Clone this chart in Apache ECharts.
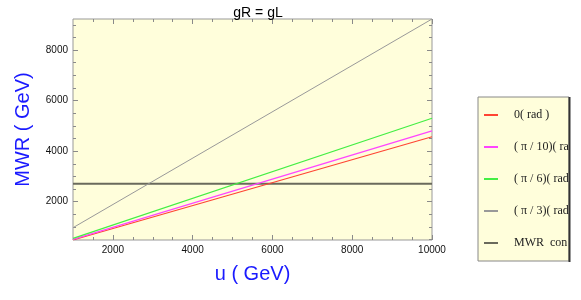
<!DOCTYPE html>
<html>
<head>
<meta charset="utf-8">
<script src="https://cdn.jsdelivr.net/npm/echarts@6/dist/echarts.min.js"></script>
<style>
  html, body { margin: 0; padding: 0; background: #fff; }
  #chart { width: 581px; height: 300px; }
</style>
</head>
<body>
<div id="chart"></div>
<script>
// u (GeV) values, first and last point of each curve
const uValues = [1000, 10000]
const seriesNames = ['0( rad )', '( π / 10)( rad )', '( π / 6)( rad )', '( π / 3)( rad )', 'MWR  constraint']
const radZero = [483, 4570]
const radPi10 = [510, 4800]
const radPi6 = [545, 5300]
const radPi3 = [970, 9228]
const mwrConstraint = [2710, 2710]

const xMajorTicks = [2000, 4000, 6000, 8000, 10000]
const xMinorTicks = [1500, 2500, 3000, 3500, 4500, 5000, 5500, 6500, 7000, 7500, 8500, 9000, 9500]
const yMajorTicks = [2000, 4000, 6000, 8000]
const yMinorTicks = [500, 1000, 1500, 2500, 3000, 3500, 4500, 5000, 5500, 6500, 7000, 7500, 8500, 9000]

const xMin = 1000, xMax = 10000
const yMin = 483, yMax = 9228

const colors = ['#ff4433', '#ff44ff', '#44ee44', '#999999', '#6a6a5c']
const widths = [1.2, 1.2, 1.2, 1, 2]
const dataSets = [radZero, radPi10, radPi6, radPi3, mwrConstraint]

const tickColor = '#8a8a8a'

function makeAxis (type, position, ticks, len, showLabel) {
  const ax = {
    type: 'value',
    position: position,
    min: type === 'x' ? xMin : yMin,
    max: type === 'x' ? xMax : yMax,
    axisLine: { show: false },
    splitLine: { show: false },
    axisTick: {
      show: true,
      inside: true,
      length: len,
      customValues: ticks,
      lineStyle: { color: tickColor, width: 1 },
    },
    axisLabel: {
      show: showLabel,
      customValues: ticks,
      formatter: v => String(v),
      fontFamily: 'Liberation Sans',
      fontSize: 10,
      color: '#111',
      margin: 5,
    },
  }
  return ax
}

const chart = echarts.init(document.getElementById('chart'))

const xAxes = [
  makeAxis('x', 'bottom', xMajorTicks, 5, true),
  makeAxis('x', 'bottom', xMinorTicks, 3, false),
  makeAxis('x', 'top', xMajorTicks, 5, false),
  makeAxis('x', 'top', xMinorTicks, 3, false),
]
xAxes[0].name = 'u ( GeV)'
xAxes[0].nameLocation = 'middle'
xAxes[0].nameGap = 24
xAxes[0].nameTextStyle = { fontFamily: 'Liberation Sans', fontSize: 20, color: '#1a1aff' }

const yAxes = [
  makeAxis('y', 'left', yMajorTicks, 5, true),
  makeAxis('y', 'left', yMinorTicks, 3, false),
  makeAxis('y', 'right', yMajorTicks, 5, false),
  makeAxis('y', 'right', yMinorTicks, 3, false),
]
yAxes[0].name = 'MWR ( GeV)'
yAxes[0].nameLocation = 'middle'
yAxes[0].nameGap = 40
yAxes[0].nameTextStyle = { fontFamily: 'Liberation Sans', fontSize: 20, color: '#1a1aff' }

const series = seriesNames.map((name, i) => ({
  name: name,
  type: 'line',
  data: uValues.map((u, j) => [u, dataSets[i][j]]),
  symbol: 'none',
  silent: true,
  lineStyle: { color: colors[i], width: widths[i] },
  itemStyle: { color: colors[i] },
  z: i === 4 ? 1 : 2,
}))

chart.setOption({
  animation: false,
  title: {
    text: 'gR = gL',
    left: 253,
    textAlign: 'center',
    top: 1,
    textStyle: { fontFamily: 'Liberation Sans', fontSize: 14, fontWeight: 'normal', color: '#000' },
  },
  grid: {
    left: 73,
    right: 149,
    top: 19,
    bottom: 60,
    show: true,
    backgroundColor: '#fffedb',
    borderColor: '#999999',
    borderWidth: 1,
  },
  xAxis: xAxes,
  yAxis: yAxes,
  legend: {
    orient: 'vertical',
    left: 478,
    top: 97,
    padding: [12, 0, 11, 5],
    itemWidth: 14,
    itemHeight: 12,
    itemGap: 20,
    selectedMode: false,
    itemStyle: { opacity: 0 },
    textStyle: {
      fontFamily: 'Liberation Serif',
      fontSize: 12,
      color: '#222',
      padding: [0, 0, 0, 11],
      width: 58,
      overflow: 'truncate',
      ellipsis: '',
    },
    data: seriesNames,
  },
  graphic: [
    {
      type: 'rect',
      z: -1,
      shape: { x: 478, y: 97, width: 91, height: 164 },
      style: { fill: '#fffedb', stroke: '#888888', lineWidth: 1 },
      silent: true,
    },
    {
      type: 'line',
      z: 100,
      shape: { x1: 569.5, y1: 97, x2: 569.5, y2: 262 },
      style: { stroke: '#333333', lineWidth: 2 },
      silent: true,
    },
  ],
  series: series,
})
</script>
</body>
</html>
